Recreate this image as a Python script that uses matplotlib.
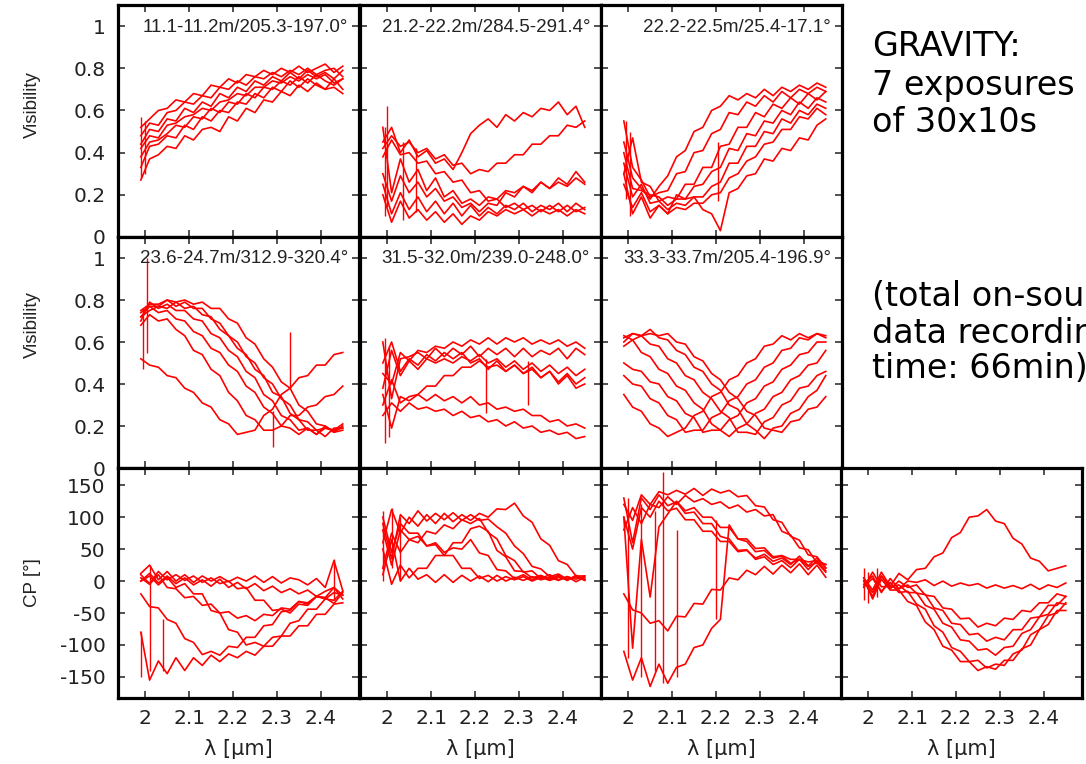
import matplotlib
matplotlib.use("Agg")
import matplotlib.pyplot as plt

# Shared wavelength grid [um]
WAVELENGTH = [1.99, 2.01, 2.03, 2.05, 2.07, 2.09, 2.11, 2.13, 2.15, 2.17, 2.19, 2.21,
              2.23, 2.25, 2.27, 2.29, 2.31, 2.33, 2.35, 2.37, 2.39, 2.41, 2.43, 2.45]

# Visibilities, row 1
VIS_11M = [
    [0.52, 0.56, 0.60, 0.61, 0.65, 0.64, 0.68, 0.67, 0.72, 0.71, 0.75, 0.73, 0.77, 0.76, 0.79, 0.77, 0.80, 0.78, 0.81, 0.78, 0.80, 0.82, 0.78, 0.81],
    [0.48, 0.54, 0.53, 0.59, 0.60, 0.64, 0.63, 0.67, 0.66, 0.71, 0.70, 0.74, 0.72, 0.76, 0.75, 0.78, 0.76, 0.79, 0.77, 0.80, 0.77, 0.79, 0.80, 0.76],
    [0.44, 0.51, 0.50, 0.56, 0.55, 0.61, 0.59, 0.64, 0.62, 0.68, 0.66, 0.71, 0.69, 0.74, 0.72, 0.76, 0.74, 0.78, 0.75, 0.79, 0.76, 0.78, 0.75, 0.79],
    [0.42, 0.48, 0.47, 0.53, 0.54, 0.57, 0.58, 0.61, 0.60, 0.64, 0.65, 0.68, 0.67, 0.71, 0.71, 0.74, 0.73, 0.76, 0.74, 0.77, 0.75, 0.77, 0.73, 0.75],
    [0.38, 0.45, 0.46, 0.49, 0.53, 0.52, 0.57, 0.56, 0.61, 0.59, 0.64, 0.63, 0.68, 0.66, 0.71, 0.70, 0.74, 0.72, 0.76, 0.73, 0.77, 0.74, 0.72, 0.75],
    [0.33, 0.43, 0.44, 0.48, 0.47, 0.53, 0.51, 0.57, 0.55, 0.60, 0.59, 0.64, 0.63, 0.68, 0.66, 0.71, 0.69, 0.74, 0.71, 0.75, 0.72, 0.70, 0.75, 0.70],
    [0.27, 0.37, 0.39, 0.43, 0.42, 0.48, 0.46, 0.51, 0.52, 0.50, 0.57, 0.55, 0.61, 0.59, 0.65, 0.64, 0.69, 0.67, 0.72, 0.69, 0.73, 0.70, 0.71, 0.68],
]
VIS_21M = [
    [0.45, 0.52, 0.40, 0.46, 0.38, 0.41, 0.35, 0.37, 0.32, 0.40, 0.49, 0.53, 0.56, 0.52, 0.58, 0.55, 0.59, 0.57, 0.61, 0.60, 0.64, 0.58, 0.62, 0.52],
    [0.42, 0.48, 0.43, 0.45, 0.40, 0.42, 0.37, 0.39, 0.34, 0.35, 0.30, 0.32, 0.31, 0.35, 0.35, 0.39, 0.39, 0.44, 0.44, 0.48, 0.48, 0.53, 0.52, 0.55],
    [0.38, 0.46, 0.39, 0.40, 0.35, 0.36, 0.30, 0.31, 0.26, 0.27, 0.21, 0.22, 0.17, 0.18, 0.14, 0.16, 0.13, 0.15, 0.12, 0.15, 0.12, 0.15, 0.12, 0.14],
    [0.30, 0.17, 0.29, 0.21, 0.26, 0.19, 0.23, 0.17, 0.19, 0.14, 0.16, 0.12, 0.16, 0.15, 0.21, 0.19, 0.24, 0.21, 0.26, 0.23, 0.28, 0.25, 0.31, 0.26],
    [0.25, 0.11, 0.21, 0.13, 0.19, 0.12, 0.17, 0.11, 0.16, 0.10, 0.15, 0.10, 0.14, 0.11, 0.15, 0.13, 0.16, 0.12, 0.15, 0.13, 0.16, 0.12, 0.16, 0.13],
    [0.52, 0.21, 0.37, 0.26, 0.32, 0.22, 0.28, 0.19, 0.22, 0.16, 0.18, 0.15, 0.19, 0.18, 0.22, 0.21, 0.24, 0.22, 0.26, 0.23, 0.26, 0.24, 0.28, 0.25],
    [0.20, 0.07, 0.17, 0.09, 0.13, 0.08, 0.12, 0.07, 0.11, 0.06, 0.10, 0.08, 0.12, 0.10, 0.13, 0.11, 0.13, 0.10, 0.13, 0.11, 0.13, 0.10, 0.13, 0.11],
]
VIS_22M = [
    [0.45, 0.28, 0.23, 0.18, 0.24, 0.29, 0.38, 0.41, 0.50, 0.52, 0.60, 0.62, 0.67, 0.65, 0.68, 0.66, 0.70, 0.67, 0.71, 0.69, 0.72, 0.70, 0.73, 0.71],
    [0.55, 0.33, 0.27, 0.19, 0.21, 0.22, 0.30, 0.31, 0.40, 0.41, 0.49, 0.51, 0.59, 0.58, 0.64, 0.62, 0.67, 0.64, 0.69, 0.66, 0.70, 0.68, 0.71, 0.69],
    [0.30, 0.47, 0.26, 0.24, 0.17, 0.19, 0.18, 0.25, 0.25, 0.33, 0.33, 0.43, 0.44, 0.52, 0.52, 0.59, 0.57, 0.63, 0.61, 0.66, 0.63, 0.68, 0.65, 0.69],
    [0.40, 0.23, 0.22, 0.20, 0.19, 0.15, 0.18, 0.18, 0.24, 0.25, 0.31, 0.33, 0.42, 0.41, 0.49, 0.48, 0.55, 0.54, 0.60, 0.58, 0.64, 0.61, 0.66, 0.64],
    [0.35, 0.19, 0.25, 0.16, 0.17, 0.13, 0.16, 0.15, 0.19, 0.19, 0.24, 0.26, 0.35, 0.35, 0.43, 0.43, 0.50, 0.49, 0.56, 0.54, 0.60, 0.58, 0.63, 0.61],
    [0.25, 0.14, 0.21, 0.12, 0.15, 0.11, 0.14, 0.13, 0.16, 0.16, 0.20, 0.21, 0.28, 0.30, 0.36, 0.38, 0.44, 0.45, 0.51, 0.51, 0.57, 0.56, 0.61, 0.58],
    [0.30, 0.11, 0.19, 0.09, 0.15, 0.11, 0.20, 0.18, 0.19, 0.13, 0.11, 0.03, 0.21, 0.23, 0.29, 0.30, 0.37, 0.36, 0.42, 0.41, 0.47, 0.46, 0.53, 0.56],
]

# Visibilities, row 2
VIS_24M = [
    [0.52, 0.49, 0.48, 0.44, 0.43, 0.38, 0.36, 0.31, 0.29, 0.23, 0.21, 0.16, 0.17, 0.18, 0.25, 0.28, 0.35, 0.38, 0.43, 0.44, 0.49, 0.49, 0.54, 0.55],
    [0.68, 0.73, 0.70, 0.71, 0.66, 0.63, 0.56, 0.54, 0.47, 0.44, 0.36, 0.32, 0.25, 0.23, 0.18, 0.18, 0.20, 0.25, 0.25, 0.29, 0.30, 0.34, 0.35, 0.39],
    [0.74, 0.77, 0.74, 0.75, 0.71, 0.70, 0.65, 0.63, 0.57, 0.55, 0.49, 0.46, 0.39, 0.36, 0.29, 0.26, 0.20, 0.19, 0.16, 0.19, 0.16, 0.20, 0.17, 0.18],
    [0.70, 0.79, 0.76, 0.78, 0.75, 0.75, 0.71, 0.70, 0.64, 0.62, 0.56, 0.53, 0.46, 0.43, 0.35, 0.32, 0.25, 0.23, 0.18, 0.19, 0.16, 0.19, 0.18, 0.19],
    [0.72, 0.77, 0.77, 0.80, 0.77, 0.79, 0.76, 0.76, 0.71, 0.69, 0.63, 0.60, 0.53, 0.50, 0.43, 0.40, 0.33, 0.30, 0.23, 0.22, 0.18, 0.19, 0.18, 0.21],
    [0.75, 0.78, 0.78, 0.80, 0.79, 0.80, 0.78, 0.79, 0.76, 0.76, 0.71, 0.69, 0.62, 0.59, 0.52, 0.48, 0.41, 0.38, 0.30, 0.27, 0.21, 0.20, 0.17, 0.20],
    [0.72, 0.75, 0.77, 0.76, 0.79, 0.76, 0.77, 0.73, 0.72, 0.66, 0.63, 0.57, 0.54, 0.47, 0.44, 0.36, 0.34, 0.26, 0.23, 0.18, 0.18, 0.15, 0.19, 0.19],
]
VIS_32M = [
    [0.45, 0.40, 0.55, 0.51, 0.56, 0.55, 0.58, 0.57, 0.60, 0.58, 0.61, 0.59, 0.62, 0.59, 0.62, 0.60, 0.62, 0.59, 0.61, 0.59, 0.61, 0.58, 0.60, 0.57],
    [0.60, 0.33, 0.52, 0.53, 0.55, 0.52, 0.57, 0.53, 0.57, 0.54, 0.58, 0.53, 0.57, 0.54, 0.57, 0.53, 0.57, 0.53, 0.56, 0.54, 0.57, 0.52, 0.57, 0.54],
    [0.50, 0.60, 0.46, 0.52, 0.49, 0.54, 0.51, 0.55, 0.52, 0.55, 0.50, 0.52, 0.47, 0.51, 0.46, 0.49, 0.45, 0.48, 0.43, 0.46, 0.41, 0.45, 0.40, 0.43],
    [0.30, 0.42, 0.31, 0.34, 0.35, 0.39, 0.39, 0.44, 0.44, 0.48, 0.48, 0.51, 0.48, 0.49, 0.46, 0.49, 0.45, 0.47, 0.43, 0.46, 0.40, 0.44, 0.38, 0.40],
    [0.35, 0.19, 0.34, 0.32, 0.35, 0.32, 0.35, 0.32, 0.34, 0.31, 0.34, 0.30, 0.31, 0.28, 0.29, 0.27, 0.28, 0.25, 0.25, 0.22, 0.23, 0.20, 0.21, 0.19],
    [0.25, 0.31, 0.27, 0.31, 0.28, 0.29, 0.27, 0.28, 0.25, 0.27, 0.24, 0.25, 0.22, 0.23, 0.20, 0.22, 0.19, 0.20, 0.17, 0.18, 0.16, 0.17, 0.14, 0.15],
    [0.38, 0.56, 0.44, 0.51, 0.47, 0.52, 0.50, 0.52, 0.50, 0.53, 0.51, 0.54, 0.50, 0.52, 0.48, 0.51, 0.47, 0.50, 0.46, 0.49, 0.45, 0.48, 0.44, 0.47],
]
VIS_33M = [
    [0.35, 0.29, 0.27, 0.21, 0.19, 0.15, 0.17, 0.19, 0.25, 0.27, 0.34, 0.36, 0.42, 0.44, 0.50, 0.52, 0.58, 0.59, 0.63, 0.61, 0.64, 0.62, 0.64, 0.62],
    [0.44, 0.40, 0.39, 0.33, 0.31, 0.25, 0.23, 0.17, 0.18, 0.18, 0.24, 0.26, 0.32, 0.34, 0.40, 0.42, 0.48, 0.50, 0.56, 0.57, 0.62, 0.61, 0.64, 0.63],
    [0.50, 0.47, 0.46, 0.41, 0.40, 0.34, 0.32, 0.26, 0.24, 0.17, 0.18, 0.18, 0.23, 0.25, 0.31, 0.33, 0.39, 0.41, 0.47, 0.49, 0.54, 0.55, 0.60, 0.60],
    [0.58, 0.61, 0.55, 0.53, 0.47, 0.45, 0.39, 0.37, 0.31, 0.28, 0.21, 0.18, 0.15, 0.19, 0.21, 0.26, 0.28, 0.34, 0.36, 0.42, 0.44, 0.49, 0.50, 0.56],
    [0.63, 0.61, 0.63, 0.59, 0.58, 0.52, 0.50, 0.44, 0.42, 0.36, 0.33, 0.27, 0.24, 0.17, 0.17, 0.16, 0.22, 0.24, 0.30, 0.32, 0.38, 0.39, 0.44, 0.46],
    [0.62, 0.64, 0.63, 0.66, 0.62, 0.61, 0.56, 0.54, 0.48, 0.46, 0.40, 0.37, 0.30, 0.28, 0.21, 0.18, 0.14, 0.19, 0.20, 0.26, 0.28, 0.34, 0.37, 0.44],
    [0.60, 0.64, 0.63, 0.64, 0.63, 0.64, 0.60, 0.59, 0.53, 0.51, 0.45, 0.42, 0.36, 0.33, 0.27, 0.25, 0.19, 0.18, 0.17, 0.22, 0.23, 0.28, 0.29, 0.34],
]

# Closure phases [deg], row 3
CP_T1 = [
    [12, 25, 2, 15, 0, 10, -2, 8, 0, 7, -1, 6, 0, 8, -2, 7, -3, 5, 2, -6, 4, -10, 32, -15],
    [0, 12, -3, 8, -4, 5, -6, 2, -8, 3, -10, -2, -12, -4, -15, -8, -18, -12, -20, -14, -24, -16, -10, -28],
    [5, -5, 10, -10, -12, -26, -24, -38, -36, -50, -48, -58, -54, -62, -52, -54, -42, -44, -32, -34, -24, -26, -35, -18],
    [-20, -40, -42, -60, -66, -90, -96, -115, -110, -116, -102, -104, -88, -88, -70, -68, -48, -46, -32, -36, -24, -28, -18, -22],
    [-80, -155, -125, -145, -120, -140, -120, -132, -116, -126, -114, -120, -110, -116, -102, -102, -86, -86, -70, -70, -52, -52, -36, -34],
    [0, 8, -6, 6, -10, -4, -20, -20, -46, -50, -76, -80, -100, -96, -102, -88, -86, -66, -62, -44, -44, -28, -30, -16],
    [10, -4, 15, 2, 10, 1, 8, -2, 5, -4, 0, -12, -10, -30, -30, -46, -44, -50, -36, -38, -24, -26, -10, -22],
]
CP_T2 = [
    [60, 112, 75, 100, 86, 104, 90, 106, 93, 104, 95, 106, 100, 113, 112, 122, 102, 92, 66, 56, 32, 26, 8, 8],
    [90, 35, 104, 90, 110, 94, 106, 96, 107, 95, 104, 95, 97, 85, 75, 55, 43, 23, 19, 7, 11, 3, 7, 2],
    [20, 75, 45, 65, 60, 78, 74, 88, 82, 96, 90, 98, 76, 66, 40, 32, 14, 16, 4, 10, 2, 7, 3, 8],
    [50, -5, 25, 5, 20, 20, 40, 40, 60, 60, 82, 86, 78, 48, 38, 16, 15, 5, 9, 2, 7, 2, 7, 3],
    [80, 25, 80, 65, 70, 55, 57, 40, 40, 20, 20, 4, 9, 0, 7, 2, 7, 0, 6, 1, 6, 2, 7, 1],
    [10, 65, 0, 20, 3, 10, -2, 10, -2, 9, 0, 8, -1, 9, 0, 6, 1, 7, 2, 6, 1, 7, -1, 6],
    [100, 45, 90, 75, 75, 55, 60, 45, 52, 50, 65, 44, 40, 18, 16, 4, 10, 2, 8, 3, 9, 1, 9, 3],
]
CP_T3 = [
    [120, 95, 135, 120, 140, 135, 142, 136, 145, 134, 144, 138, 142, 132, 134, 118, 116, 96, 92, 70, 64, 41, 38, 20],
    [80, 115, 90, 120, 115, 132, 120, 134, 124, 129, 120, 124, 114, 119, 108, 112, 102, 104, 78, 72, 52, 49, 28, 26],
    [100, 50, 115, 100, 125, 110, 114, 96, 96, 78, 78, 62, 62, 46, 48, 36, 42, 31, 36, 26, 39, 24, 36, 21],
    [130, 60, 130, 112, 135, 118, 124, 106, 108, 90, 90, 70, 66, 48, 49, 34, 38, 26, 32, 21, 34, 18, 32, 16],
    [-20, -45, -50, -66, -62, -78, -55, -56, -35, -36, -13, -14, 5, 2, 17, 10, 23, 11, 25, 13, 27, 10, 25, 6],
    [-110, -155, -120, -165, -130, -160, -135, -130, -104, -100, -74, -60, 88, 66, 62, 46, 48, 36, 39, 28, 34, 23, 29, 14],
    [100, -105, 65, -25, 85, 105, 125, 110, 115, 100, 100, 84, 84, 66, 66, 51, 52, 38, 40, 34, 34, 30, 32, 26],
]
CP_T4 = [
    [5, -14, 14, -8, 12, 2, 18, 20, 38, 44, 68, 76, 100, 102, 112, 94, 90, 67, 58, 36, 31, 16, 20, 24],
    [-5, 8, -18, 4, -12, 0, -2, 2, -7, 0, -8, -3, -7, -4, -11, -6, -11, -7, -12, -5, -13, -6, -10, -3],
    [0, -24, 8, -12, 0, -10, -6, -22, -24, -42, -44, -59, -58, -72, -66, -70, -58, -60, -46, -48, -34, -34, -20, -24],
    [-10, 14, -9, -8, -12, -6, -19, -21, -42, -46, -66, -68, -84, -82, -94, -88, -92, -76, -76, -58, -56, -38, -38, -24],
    [0, -18, 8, -9, -6, -18, -18, -38, -44, -66, -72, -92, -94, -108, -106, -116, -104, -102, -82, -76, -56, -52, -34, -36],
    [-8, 4, -16, -2, -18, -16, -36, -44, -70, -80, -104, -110, -126, -124, -136, -130, -132, -114, -108, -84, -76, -54, -50, -34],
    [5, -28, 3, -14, -14, -32, -38, -64, -76, -102, -108, -126, -126, -140, -134, -138, -124, -124, -106, -100, -76, -68, -46, -46],
]

# single-channel glitches: (wavelength, low, high)
GLITCH_11M = [(1.99, 0.28, 0.57), (2.00, 0.30, 0.55)]
GLITCH_21M = [(1.995, 0.10, 0.52), (2.00, 0.14, 0.62), (2.035, 0.08, 0.45), (2.065, 0.12, 0.42)]
GLITCH_22M = [(1.995, 0.18, 0.55), (2.005, 0.10, 0.50), (2.205, 0.17, 0.45)]
GLITCH_24M = [(1.995, 0.47, 0.76), (2.005, 0.55, 1.00), (2.29, 0.10, 0.27), (2.33, 0.38, 0.65)]
GLITCH_32M = [(1.995, 0.12, 0.62), (2.005, 0.15, 0.58), (2.224, 0.26, 0.52), (2.32, 0.30, 0.51)]
GLITCH_CP1 = [(1.99, -150, -80), (2.01, -140, 25), (2.04, -140, -60), (2.43, -30, 35)]
GLITCH_CP2 = [(1.99, 0, 110), (2.01, 20, 115), (2.03, 0, 100)]
GLITCH_CP3 = [(2.0, -120, 130), (2.03, -150, 120), (2.06, -140, 110), (2.08, -160, 170),
              (2.11, -150, 80), (2.2, -60, 95)]
GLITCH_CP4 = [(1.99, -30, 20), (2.0, -35, 15), (2.02, -25, 20)]

TITLES = ["11.1-11.2m/205.3-197.0°", "21.2-22.2m/284.5-291.4°", "22.2-22.5m/25.4-17.1°",
          "23.6-24.7m/312.9-320.4°", "31.5-32.0m/239.0-248.0°", "33.3-33.7m/205.4-196.9°"]

RIGHT_TEXT = ["GRAVITY:", "7 exposures", "of 30x10s",
              "(total on-source", "data recording", "time: 66min)"]

plt.rcParams['font.family'] = ['Liberation Sans', 'DejaVu Sans']
plt.rcParams['axes.unicode_minus'] = False
RED = '#ff0000'

W, H = 1086, 764
fig = plt.figure(figsize=(W / 100, H / 100), dpi=100)

col_left = [118, 360, 601, 841]
rows = [(5, 237), (237, 468), (468, 698)]
PW = 241
ylabel_y = [0.57, 0.62, 0.5]


def make_ax(row, col):
    top, bot = rows[row]
    return fig.add_axes([col_left[col] / W, 1 - bot / H, PW / W, (bot - top) / H])


def style(ax, row, left, bottom):
    is_cp = row == 2
    ax.set_xlim(1.938, 2.487)
    ax.set_xticks([2.0, 2.1, 2.2, 2.3, 2.4])
    ax.set_xticklabels(['2', '2.1', '2.2', '2.3', '2.4'])
    if is_cp:
        ax.set_ylim(-183, 177)
        ax.set_yticks([-150, -100, -50, 0, 50, 100, 150])
    else:
        ax.set_ylim(0, 1.1)
        ax.set_yticks([0, 0.2, 0.4, 0.6, 0.8, 1.0])
        ax.set_yticklabels(['0', '0.2', '0.4', '0.6', '0.8', '1'])
    ax.tick_params(direction='in', top=True, right=True, length=5, width=1.1,
                   labelsize=14.5, labelleft=left, labelbottom=bottom, pad=9,
                   colors='#222222')
    ax.tick_params(axis='x', pad=8)
    for lab in ax.get_xticklabels() + ax.get_yticklabels():
        lab.set_fontfamily('DejaVu Sans')
    for s in ax.spines.values():
        s.set_linewidth(2.3)
        s.set_color('black')
    if left:
        ax.set_ylabel('CP [°]' if is_cp else 'Visibility', fontsize=13.5, color='#222222')
        ax.yaxis.set_label_coords(-0.32, ylabel_y[row])
    if bottom:
        ax.set_xlabel('λ [µm]', fontsize=15, family='DejaVu Sans', color='#222222')
        ax.xaxis.set_label_coords(0.5, -0.18)


def draw(ax, curves, glitches=()):
    for v in curves:
        ax.plot(WAVELENGTH[:len(v)], v, color=RED, lw=1.2)
    for lam, lo, hi in glitches:
        ax.vlines(lam, lo, hi, color=RED, lw=1.0)


vis_sets = [(VIS_11M, GLITCH_11M), (VIS_21M, GLITCH_21M), (VIS_22M, GLITCH_22M),
            (VIS_24M, GLITCH_24M), (VIS_32M, GLITCH_32M), (VIS_33M, ())]
for k, (curves, gl) in enumerate(vis_sets):
    r, c = divmod(k, 3)
    ax = make_ax(r, c)
    draw(ax, curves, gl)
    style(ax, r, c == 0, False)
    ax.text(0.955, 0.905, TITLES[k], transform=ax.transAxes, ha='right',
            va='center', fontsize=13.5, color='#222222')

cp_sets = [(CP_T1, GLITCH_CP1), (CP_T2, GLITCH_CP2), (CP_T3, GLITCH_CP3), (CP_T4, GLITCH_CP4)]
for c, (curves, gl) in enumerate(cp_sets):
    ax = make_ax(2, c)
    draw(ax, curves, gl)
    style(ax, 2, c == 0, True)

# the reference lets these lines run past the right edge
line_y = [47, 86, 123, 297, 333, 369]
for txt, y in zip(RIGHT_TEXT, line_y):
    fig.text(872 / W, 1 - y / H, txt, fontsize=24, family='DejaVu Sans',
             va='center', ha='left', color='black')

fig.savefig('out.png', dpi=100)
